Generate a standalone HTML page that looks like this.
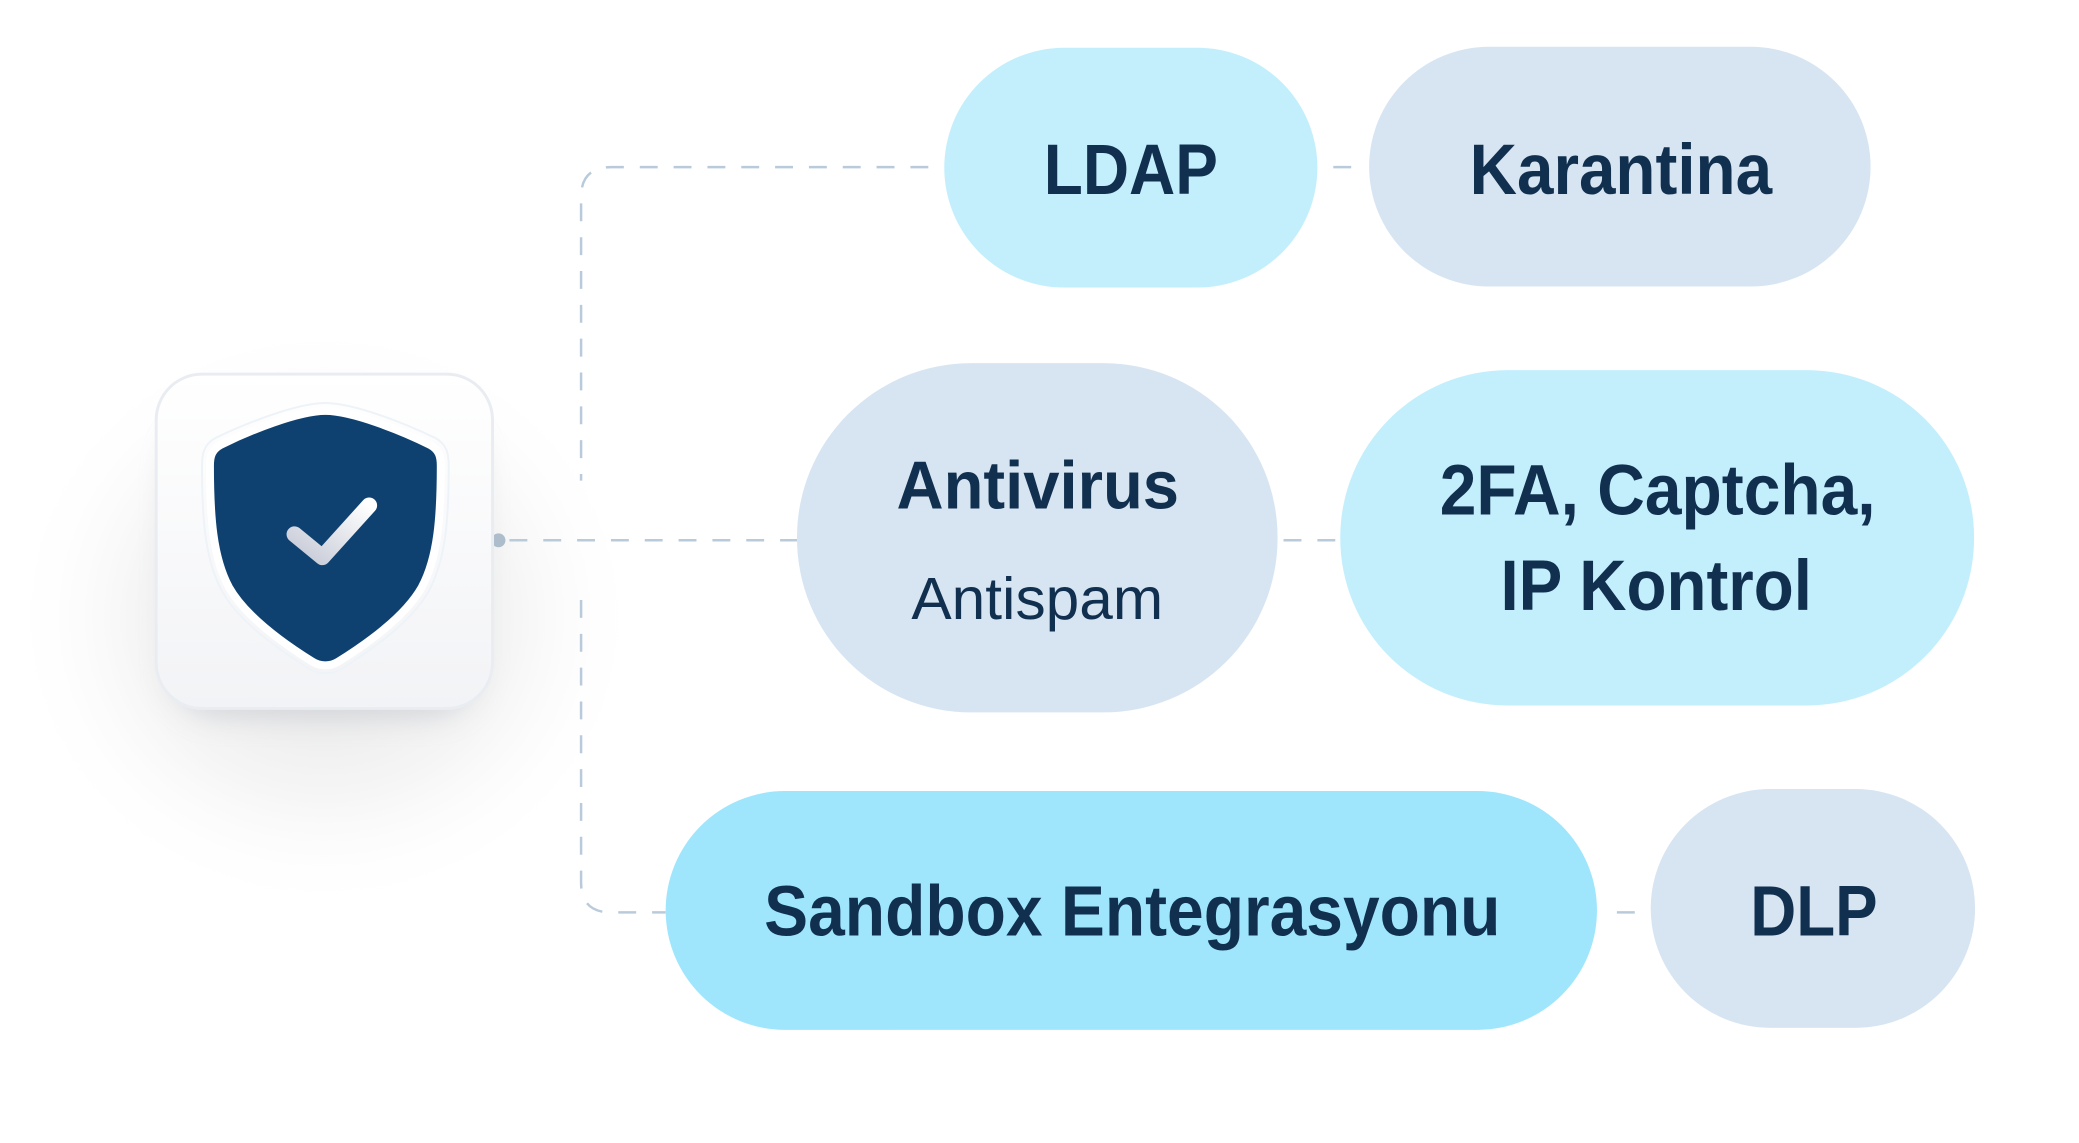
<!DOCTYPE html>
<html><head><meta charset="utf-8"><style>
html,body{margin:0;padding:0;background:#fff;}
svg{display:block}
text{font-family:"Liberation Sans",sans-serif;fill:#11304f;}
</style></head><body>
<svg width="2079" height="1143" viewBox="0 0 2079 1143" xmlns="http://www.w3.org/2000/svg">
<defs>
<radialGradient id="sh" cx="0.5" cy="0.5" r="0.5">
<stop offset="0" stop-color="#d8d8d8" stop-opacity="0.9"/>
<stop offset="0.6" stop-color="#ececec" stop-opacity="0.5"/>
<stop offset="1" stop-color="#ffffff" stop-opacity="0"/>
</radialGradient>
<linearGradient id="card" x1="0" y1="0" x2="0" y2="1">
<stop offset="0" stop-color="#ffffff"/><stop offset="1" stop-color="#f2f3f6"/>
</linearGradient>
<linearGradient id="chk" x1="0" y1="1" x2="1" y2="0">
<stop offset="0" stop-color="#c6cad6"/><stop offset="1" stop-color="#ffffff"/>
</linearGradient>
<filter id="blur" x="-50%" y="-50%" width="200%" height="200%"><feGaussianBlur stdDeviation="14"/></filter>
</defs>
<g transform="scale(0.995)">
<ellipse cx="326" cy="620" rx="320" ry="300" fill="url(#sh)"/>
<rect x="170" y="420" width="312" height="300" rx="50" fill="#b8bcc4" opacity="0.5" filter="url(#blur)"/>
<g stroke="#b9cbdb" stroke-width="2.5" fill="none" stroke-dasharray="18 16">
<path d="M933 168 H614 Q584 168 584 198 V483"/>
<path d="M584 603 V887 Q584 917 614 917 H669"/>
<path d="M512 543 H801"/>
<path d="M1340 168 H1365"/>
<path d="M1290 543 H1347"/>
<path d="M1625 917 H1657"/>
</g>
<circle cx="501" cy="543" r="7" fill="#adbdcc"/>
<rect x="157" y="376" width="338" height="336" rx="46" fill="url(#card)" stroke="#e9edf2" stroke-width="3"/>
<path d="M327 413 C300 413 250 433 222 447 C213 452 211 458 211 468 C211 520 214 560 230 590 C248 622 290 650 314 665 C322 670 332 670 340 665 C364 650 406 622 424 590 C440 560 443 520 443 468 C443 458 441 452 432 447 C404 433 354 413 327 413 Z" fill="#0f4170" stroke="#ffffff" stroke-width="8" stroke-linejoin="round"/>
<path d="M327 405 C298 405 246 426 217 440 C206 446 203 454 203 468 C203 522 206 562 223 594 C242 628 286 656 310 672 C320 678 334 678 344 672 C368 656 412 628 431 594 C448 562 451 522 451 468 C451 454 448 446 437 440 C408 426 356 405 327 405 Z" fill="none" stroke="#eef3f8" stroke-width="2"/>
<path d="M296 537 L324 560 L371 508" fill="none" stroke="url(#chk)" stroke-width="16" stroke-linecap="round" stroke-linejoin="round"/>
<rect x="949" y="48" width="375" height="241" rx="120.5" fill="#c3effd"/>
<rect x="1376" y="47" width="504" height="241" rx="120.5" fill="#d7e5f2"/>
<rect x="801" y="365" width="483" height="351" rx="175" fill="#d7e5f2"/>
<rect x="1347" y="372" width="637" height="337" rx="168" fill="#c3effd"/>
<rect x="669" y="795" width="936" height="240" rx="120" fill="#9fe6fd"/>
<rect x="1659" y="793" width="326" height="240" rx="120" fill="#d7e5f2"/>
<g font-weight="bold" font-size="72">
<text x="1049" y="195" textLength="175" lengthAdjust="spacingAndGlyphs">LDAP</text>
<text x="1477" y="195" textLength="304" lengthAdjust="spacingAndGlyphs">Karantina</text>
<text x="901" y="511" font-size="68" textLength="284" lengthAdjust="spacingAndGlyphs">Antivirus</text>
<text x="1447" y="517" textLength="438" lengthAdjust="spacingAndGlyphs">2FA, Captcha,</text>
<text x="1508" y="613" textLength="313" lengthAdjust="spacingAndGlyphs">IP Kontrol</text>
<text x="768" y="940" textLength="740" lengthAdjust="spacingAndGlyphs">Sandbox Entegrasyonu</text>
<text x="1759" y="940" textLength="128" lengthAdjust="spacingAndGlyphs">DLP</text>
</g>
<text x="916" y="622" font-size="60" textLength="253" lengthAdjust="spacingAndGlyphs">Antispam</text>
</g>
</svg>
</body></html>
